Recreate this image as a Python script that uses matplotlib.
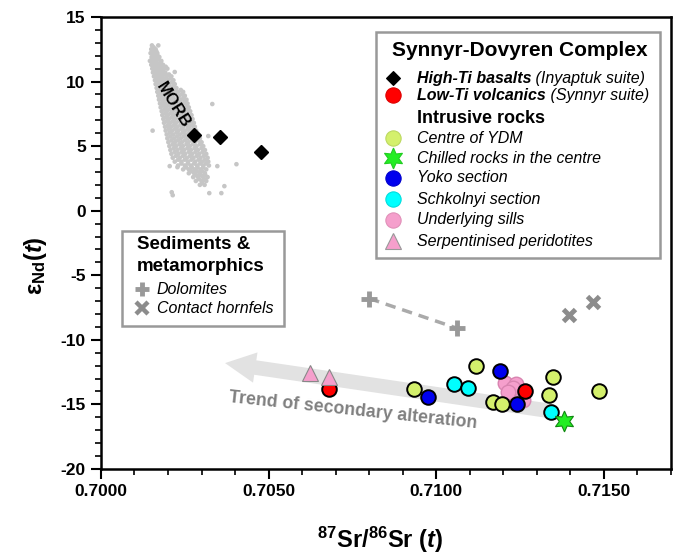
import matplotlib
matplotlib.use("Agg")
import matplotlib.pyplot as plt
from matplotlib.ticker import MultipleLocator, FormatStrFormatter
from matplotlib.patches import Rectangle

plt.rcParams["font.family"] = "Liberation Sans"
plt.rcParams["axes.unicode_minus"] = False
plt.rcParams["mathtext.fontset"] = "custom"
plt.rcParams["mathtext.rm"] = "Liberation Sans:bold"
plt.rcParams["mathtext.bf"] = "Liberation Sans:bold"
plt.rcParams["mathtext.it"] = "Liberation Sans:bold:italic"

# MORB field (87Sr/86Sr, eNd)
morb_sr = [
    0.70152, 0.70171,
    0.70157,
    0.70150, 0.70163,
    0.70153, 0.70165,
    0.70148, 0.70158, 0.70168,
    0.70156, 0.70168,
    0.70151, 0.70162, 0.70174,
    0.70152, 0.70161, 0.70172,
    0.70146, 0.70156, 0.70166, 0.70180,
    0.70155, 0.70166, 0.70178,
    0.70150, 0.70160, 0.70171, 0.70185,
    0.70158, 0.70169, 0.70181, 0.70193,
    0.70153, 0.70163, 0.70175, 0.70188, 0.70198,
    0.70160, 0.70173, 0.70185,
    0.70155, 0.70167, 0.70179, 0.70192,
    0.70163, 0.70176, 0.70189, 0.70203,
    0.70158, 0.70170, 0.70182, 0.70196, 0.70210,
    0.70167, 0.70180, 0.70193, 0.70207,
    0.70161, 0.70174, 0.70187, 0.70200, 0.70216,
    0.70169, 0.70183, 0.70197, 0.70212,
    0.70163, 0.70176, 0.70190, 0.70204, 0.70220,
    0.70172, 0.70187, 0.70201, 0.70216,
    0.70166, 0.70180, 0.70194, 0.70208, 0.70225,
    0.70175, 0.70190, 0.70204, 0.70221, 0.70238,
    0.70168, 0.70183, 0.70197, 0.70212, 0.70230, 0.70245,
    0.70178, 0.70193, 0.70208, 0.70225, 0.70242,
    0.70171, 0.70186, 0.70200, 0.70216, 0.70234, 0.70250,
    0.70181, 0.70196, 0.70212, 0.70229, 0.70246,
    0.70173, 0.70189, 0.70204, 0.70220, 0.70238, 0.70255,
    0.70184, 0.70200, 0.70215, 0.70233, 0.70250,
    0.70176, 0.70192, 0.70207, 0.70224, 0.70242, 0.70258,
    0.70186, 0.70202, 0.70219, 0.70236, 0.70253,
    0.70178, 0.70194, 0.70211, 0.70228, 0.70245, 0.70262,
    0.70189, 0.70205, 0.70222, 0.70240, 0.70257,
    0.70181, 0.70197, 0.70214, 0.70231, 0.70249, 0.70266,
    0.70192, 0.70209, 0.70226, 0.70244, 0.70261,
    0.70183, 0.70200, 0.70218, 0.70235, 0.70253, 0.70270,
    0.70194, 0.70212, 0.70230, 0.70248, 0.70265,
    0.70186, 0.70203, 0.70221, 0.70239, 0.70257, 0.70273,
    0.70197, 0.70215, 0.70233, 0.70252, 0.70269,
    0.70188, 0.70206, 0.70224, 0.70243, 0.70261, 0.70277,
    0.70200, 0.70218, 0.70237, 0.70255, 0.70272,
    0.70191, 0.70209, 0.70228, 0.70246, 0.70264, 0.70280,
    0.70202, 0.70221, 0.70240, 0.70259, 0.70276,
    0.70154, 0.70193, 0.70212, 0.70231, 0.70250, 0.70268, 0.70284,
    0.70205, 0.70225, 0.70244, 0.70263, 0.70281,
    0.70196, 0.70215, 0.70235, 0.70254, 0.70272, 0.70290,
    0.70207, 0.70227, 0.70247, 0.70266, 0.70285,
    0.70198, 0.70218, 0.70238, 0.70258, 0.70276, 0.70295,
    0.70210, 0.70230, 0.70251, 0.70270, 0.70290,
    0.70201, 0.70221, 0.70241, 0.70261, 0.70280, 0.70300,
    0.70214, 0.70234, 0.70255, 0.70275, 0.70295,
    0.70204, 0.70224, 0.70244, 0.70265, 0.70285, 0.70305,
    0.70217, 0.70238, 0.70258, 0.70279, 0.70300,
    0.70207, 0.70228, 0.70248, 0.70268, 0.70289, 0.70310,
    0.70220, 0.70241, 0.70262, 0.70282, 0.70303,
    0.70210, 0.70231, 0.70251, 0.70272, 0.70293, 0.70314,
    0.70224, 0.70245, 0.70266, 0.70286, 0.70307,
    0.70214, 0.70235, 0.70256, 0.70276, 0.70297, 0.70318,
    0.70230, 0.70250, 0.70270, 0.70291, 0.70310,
    0.70220, 0.70240, 0.70260, 0.70281, 0.70301, 0.70320,
    0.70240, 0.70259, 0.70278, 0.70296, 0.70313,
    0.70230, 0.70250, 0.70268, 0.70287, 0.70305, 0.70322,
    0.70254, 0.70271, 0.70288, 0.70305,
    0.70245, 0.70262, 0.70280, 0.70297, 0.70314,
    0.70270, 0.70286, 0.70302,
    0.70262, 0.70278, 0.70294, 0.70310,
    0.70283, 0.70298, 0.70311,
    0.70275, 0.70290, 0.70305, 0.70318,
    0.70292, 0.70307,
    0.70283, 0.70300, 0.70314,
    0.70302,
    0.70295, 0.70309,
    0.70332, 0.70320, 0.70347, 0.70404, 0.70205, 0.70228,
    0.70211, 0.70214, 0.70323, 0.70368, 0.70359, 0.70220,
]
morb_nd = [
    12.8, 12.8,
    12.65,
    12.5, 12.5,
    12.35, 12.35,
    12.2, 12.2, 12.2,
    12.05, 12.05,
    11.9, 11.9, 11.9,
    11.75, 11.75, 11.75,
    11.6, 11.6, 11.6, 11.6,
    11.45, 11.45, 11.45,
    11.3, 11.3, 11.3, 11.3,
    11.15, 11.15, 11.15, 11.15,
    11.0, 11.0, 11.0, 11.0, 11.0,
    10.85, 10.85, 10.85,
    10.7, 10.7, 10.7, 10.7,
    10.55, 10.55, 10.55, 10.55,
    10.4, 10.4, 10.4, 10.4, 10.4,
    10.25, 10.25, 10.25, 10.25,
    10.1, 10.1, 10.1, 10.1, 10.1,
    9.95, 9.95, 9.95, 9.95,
    9.8, 9.8, 9.8, 9.8, 9.8,
    9.65, 9.65, 9.65, 9.65,
    9.5, 9.5, 9.5, 9.5, 9.5,
    9.35, 9.35, 9.35, 9.35, 9.35,
    9.2, 9.2, 9.2, 9.2, 9.2, 9.2,
    9.05, 9.05, 9.05, 9.05, 9.05,
    8.9, 8.9, 8.9, 8.9, 8.9, 8.9,
    8.75, 8.75, 8.75, 8.75, 8.75,
    8.6, 8.6, 8.6, 8.6, 8.6, 8.6,
    8.45, 8.45, 8.45, 8.45, 8.45,
    8.3, 8.3, 8.3, 8.3, 8.3, 8.3,
    8.15, 8.15, 8.15, 8.15, 8.15,
    8.0, 8.0, 8.0, 8.0, 8.0, 8.0,
    7.85, 7.85, 7.85, 7.85, 7.85,
    7.7, 7.7, 7.7, 7.7, 7.7, 7.7,
    7.55, 7.55, 7.55, 7.55, 7.55,
    7.4, 7.4, 7.4, 7.4, 7.4, 7.4,
    7.25, 7.25, 7.25, 7.25, 7.25,
    7.1, 7.1, 7.1, 7.1, 7.1, 7.1,
    6.95, 6.95, 6.95, 6.95, 6.95,
    6.8, 6.8, 6.8, 6.8, 6.8, 6.8,
    6.65, 6.65, 6.65, 6.65, 6.65,
    6.5, 6.5, 6.5, 6.5, 6.5, 6.5,
    6.35, 6.35, 6.35, 6.35, 6.35,
    6.2, 6.2, 6.2, 6.2, 6.2, 6.2, 6.2,
    6.05, 6.05, 6.05, 6.05, 6.05,
    5.9, 5.9, 5.9, 5.9, 5.9, 5.9,
    5.75, 5.75, 5.75, 5.75, 5.75,
    5.6, 5.6, 5.6, 5.6, 5.6, 5.6,
    5.45, 5.45, 5.45, 5.45, 5.45,
    5.3, 5.3, 5.3, 5.3, 5.3, 5.3,
    5.15, 5.15, 5.15, 5.15, 5.15,
    5.0, 5.0, 5.0, 5.0, 5.0, 5.0,
    4.85, 4.85, 4.85, 4.85, 4.85,
    4.7, 4.7, 4.7, 4.7, 4.7, 4.7,
    4.55, 4.55, 4.55, 4.55, 4.55,
    4.4, 4.4, 4.4, 4.4, 4.4, 4.4,
    4.25, 4.25, 4.25, 4.25, 4.25,
    4.1, 4.1, 4.1, 4.1, 4.1, 4.1,
    3.95, 3.95, 3.95, 3.95, 3.95,
    3.8, 3.8, 3.8, 3.8, 3.8, 3.8,
    3.65, 3.65, 3.65, 3.65, 3.65,
    3.5, 3.5, 3.5, 3.5, 3.5, 3.5,
    3.35, 3.35, 3.35, 3.35,
    3.2, 3.2, 3.2, 3.2, 3.2,
    3.05, 3.05, 3.05,
    2.9, 2.9, 2.9, 2.9,
    2.75, 2.75, 2.75,
    2.6, 2.6, 2.6, 2.6,
    2.45, 2.45,
    2.3, 2.3, 2.3,
    2.15,
    2.0, 2.0,
    8.26, 5.78, 3.45, 3.6, 3.45, 3.37,
    1.43, 1.2, 1.36, 1.9, 1.36, 10.74,
]

hiti_sr = [0.70276, 0.70355, 0.70478]
hiti_nd = [5.85, 5.70, 4.53]
lowti_sr = [0.70680, 0.71264]
lowti_nd = [-13.84, -13.95]
ydm_sr = [0.70935, 0.71119, 0.71169, 0.71196, 0.71347, 0.71335, 0.71484]
ydm_nd = [-13.84, -12.05, -14.84, -15.0, -12.9, -14.3, -14.0]
chill_sr = [0.71380]
chill_nd = [-16.3]
yoko_sr = [0.70976, 0.71190, 0.71240]
yoko_nd = [-14.4, -12.4, -15.0]
schk_sr = [0.71053, 0.71095, 0.71341]
schk_nd = [-13.45, -13.76, -15.6]
sill_sr = [0.71205, 0.71237, 0.71228, 0.71214, 0.71258]
sill_nd = [-13.37, -13.45, -13.76, -14.07, -14.69]
serp_sr = [0.70623, 0.70680]
serp_nd = [-12.6, -12.9]
dolo_sr = [0.70800, 0.71062]
dolo_nd = [-6.8, -9.1]
horn_sr = [0.71395, 0.71466]
horn_nd = [-8.1, -7.1]

# alteration trend arrow (tail -> head)
trend_sr = [0.71350, 0.70370]
trend_nd = [-15.55, -11.8]

fig = plt.figure(figsize=(6.79, 5.55), dpi=100)
ax = fig.add_axes([0.1487, 0.155, 0.8395, 0.8144])

ax.scatter(morb_sr, morb_nd, s=11, c="#c6c6c6", edgecolors="none", zorder=1)
ax.text(0.70214, 8.2, "MORB", rotation=-58, ha="center", va="center",
        fontsize=12, fontweight="bold", zorder=2)

ax.annotate("", xy=(trend_sr[1], trend_nd[1]), xytext=(trend_sr[0], trend_nd[0]),
            arrowprops=dict(arrowstyle="simple,head_length=2.2,head_width=2.2,tail_width=1.05",
                            mutation_scale=10, color="#e2e2e2", ec="none",
                            shrinkA=0, shrinkB=0), zorder=1)
ax.text(0.70751, -15.5, "Trend of secondary alteration", rotation=-6,
        ha="center", va="center", rotation_mode="anchor",
        fontsize=12.8, fontweight="bold", color="#808080", zorder=2)

ax.plot(dolo_sr, dolo_nd, color="#aaaaaa", lw=2.5, dashes=(3, 2), zorder=2)
ax.plot(dolo_sr, dolo_nd, ls="none", marker="+", ms=11, mew=3.5, color="#999999", zorder=3)
ax.plot(horn_sr, horn_nd, ls="none", marker="x", ms=9, mew=3.5, color="#8c8c8c", zorder=3)

ax.plot(hiti_sr, hiti_nd, ls="none", marker="D", ms=7.5, color="black", zorder=4)
ax.plot(lowti_sr, lowti_nd, ls="none", marker="o", ms=10.5, mew=1.4,
        mfc="#ff0000", mec="black", zorder=5)
ax.plot(serp_sr, serp_nd, ls="none", marker="^", ms=11, mew=0.8,
        mfc="#f59fcc", mec="#888888", zorder=6)
ax.plot(sill_sr, sill_nd, ls="none", marker="o", ms=10.5, mew=1.0,
        mfc="#f59fcc", mec="#d884b0", zorder=3)
ax.plot(ydm_sr, ydm_nd, ls="none", marker="o", ms=10.5, mew=1.4,
        mfc="#d4f06c", mec="black", zorder=4)
ax.plot(schk_sr, schk_nd, ls="none", marker="o", ms=10.5, mew=1.4,
        mfc="#00ffff", mec="black", zorder=4)
ax.plot(yoko_sr, yoko_nd, ls="none", marker="o", ms=10.5, mew=1.4,
        mfc="#0000ee", mec="black", zorder=5)
ax.plot(chill_sr, chill_nd, ls="none", marker=(6, 1, 0), ms=15, mew=0.8,
        mfc="#22ee22", mec="#118811", zorder=6)

ax.set_xlim(0.700, 0.717)
ax.set_ylim(-20, 15)
ax.xaxis.set_major_locator(MultipleLocator(0.005))
ax.xaxis.set_minor_locator(MultipleLocator(0.001))
ax.xaxis.set_major_formatter(FormatStrFormatter("%.4f"))
ax.yaxis.set_major_locator(MultipleLocator(5))
ax.yaxis.set_minor_locator(MultipleLocator(1))
ax.tick_params(which="major", direction="out", length=7, width=1.5, labelsize=12.5, pad=4)
ax.tick_params(which="minor", direction="out", length=4, width=1.2)
for lab in ax.get_xticklabels() + ax.get_yticklabels():
    lab.set_fontweight("bold")
for sp in ax.spines.values():
    sp.set_linewidth(1.8)

ax.set_xlabel("$^{87}$Sr/$^{86}$Sr ($\\mathit{t}$)", fontsize=17, fontweight="bold", va="center")
ax.xaxis.set_label_coords(0.49, -0.157)
ax.set_ylabel("ε$_{\\mathrm{Nd}}$($\\mathit{t}$)", fontsize=17, fontweight="bold", va="center")
ax.yaxis.set_label_coords(-0.115, 0.45)

# legend: Synnyr-Dovyren Complex
ax.add_patch(Rectangle((0.4825, 0.4668), 0.4982, 0.5, transform=ax.transAxes,
                       facecolor="white", edgecolor="#999999", lw=1.8, zorder=7))
ax.text(0.735, 0.9248, "Synnyr-Dovyren Complex", transform=ax.transAxes, ha="center",
        va="center", fontsize=15, fontweight="bold", zorder=8)

mx, tx = 0.5123, 0.5544
t1 = ax.text(tx, 0.865, "High-Ti basalts", transform=ax.transAxes, va="center",
             fontsize=11.5, fontweight="bold", fontstyle="italic", zorder=8)
ax.annotate(" (Inyaptuk suite)", xy=(1, 0.5), xycoords=t1, va="center",
            fontsize=11.5, fontstyle="italic", zorder=8)
t2 = ax.text(tx, 0.827, "Low-Ti volcanics", transform=ax.transAxes, va="center",
             fontsize=11.5, fontweight="bold", fontstyle="italic", zorder=8)
ax.annotate(" (Synnyr suite)", xy=(1, 0.5), xycoords=t2, va="center",
            fontsize=11.5, fontstyle="italic", zorder=8)
ax.text(tx, 0.7765, "Intrusive rocks", transform=ax.transAxes, va="center",
        fontsize=13, fontweight="bold", zorder=8)

key_y = [0.865, 0.827, 0.732, 0.688, 0.644, 0.597, 0.551, 0.504]
key_style = [
    dict(marker="D", ms=7, mfc="black", mec="black"),
    dict(marker="o", ms=11, mfc="#ff0000", mec="#dd0000"),
    dict(marker="o", ms=11, mfc="#d4f06c", mec="#bcd860"),
    dict(marker=(6, 1, 0), ms=15, mfc="#22ee22", mec="#22cc22"),
    dict(marker="o", ms=11, mfc="#0000ee", mec="#0000cc"),
    dict(marker="o", ms=11, mfc="#00ffff", mec="#00dddd"),
    dict(marker="o", ms=11, mfc="#f59fcc", mec="#e090b8"),
    dict(marker="^", ms=12, mfc="#f59fcc", mec="#999999"),
]
for ky, st in zip(key_y, key_style):
    ax.plot([mx], [ky], transform=ax.transAxes, ls="none", mew=0.8, zorder=8, **st)

intr_labels = ["Centre of YDM", "Chilled rocks in the centre", "Yoko section",
               "Schkolnyi section", "Underlying sills", "Serpentinised peridotites"]
for ky, lab in zip(key_y[2:], intr_labels):
    ax.text(tx, ky, lab, transform=ax.transAxes, va="center", fontsize=11.5,
            fontstyle="italic", zorder=8)

# legend: sediments
ax.add_patch(Rectangle((0.0368, 0.3164), 0.2842, 0.2101, transform=ax.transAxes,
                       facecolor="white", edgecolor="#999999", lw=1.8, zorder=7))
ax.text(0.0632, 0.4956, "Sediments &", transform=ax.transAxes, va="center",
        fontsize=13.5, fontweight="bold", zorder=8)
ax.text(0.0632, 0.449, "metamorphics", transform=ax.transAxes, va="center",
        fontsize=13.5, fontweight="bold", zorder=8)
ax.plot([0.0719], [0.398], transform=ax.transAxes, ls="none", marker="+", ms=10,
        mew=3.5, color="#999999", zorder=8)
ax.plot([0.0719], [0.356], transform=ax.transAxes, ls="none", marker="x", ms=8,
        mew=3.2, color="#8c8c8c", zorder=8)
ax.text(0.0982, 0.398, "Dolomites", transform=ax.transAxes, va="center",
        fontsize=11.5, fontstyle="italic", zorder=8)
ax.text(0.0982, 0.356, "Contact hornfels", transform=ax.transAxes, va="center",
        fontsize=11.5, fontstyle="italic", zorder=8)

fig.savefig("out.png", dpi=100)
